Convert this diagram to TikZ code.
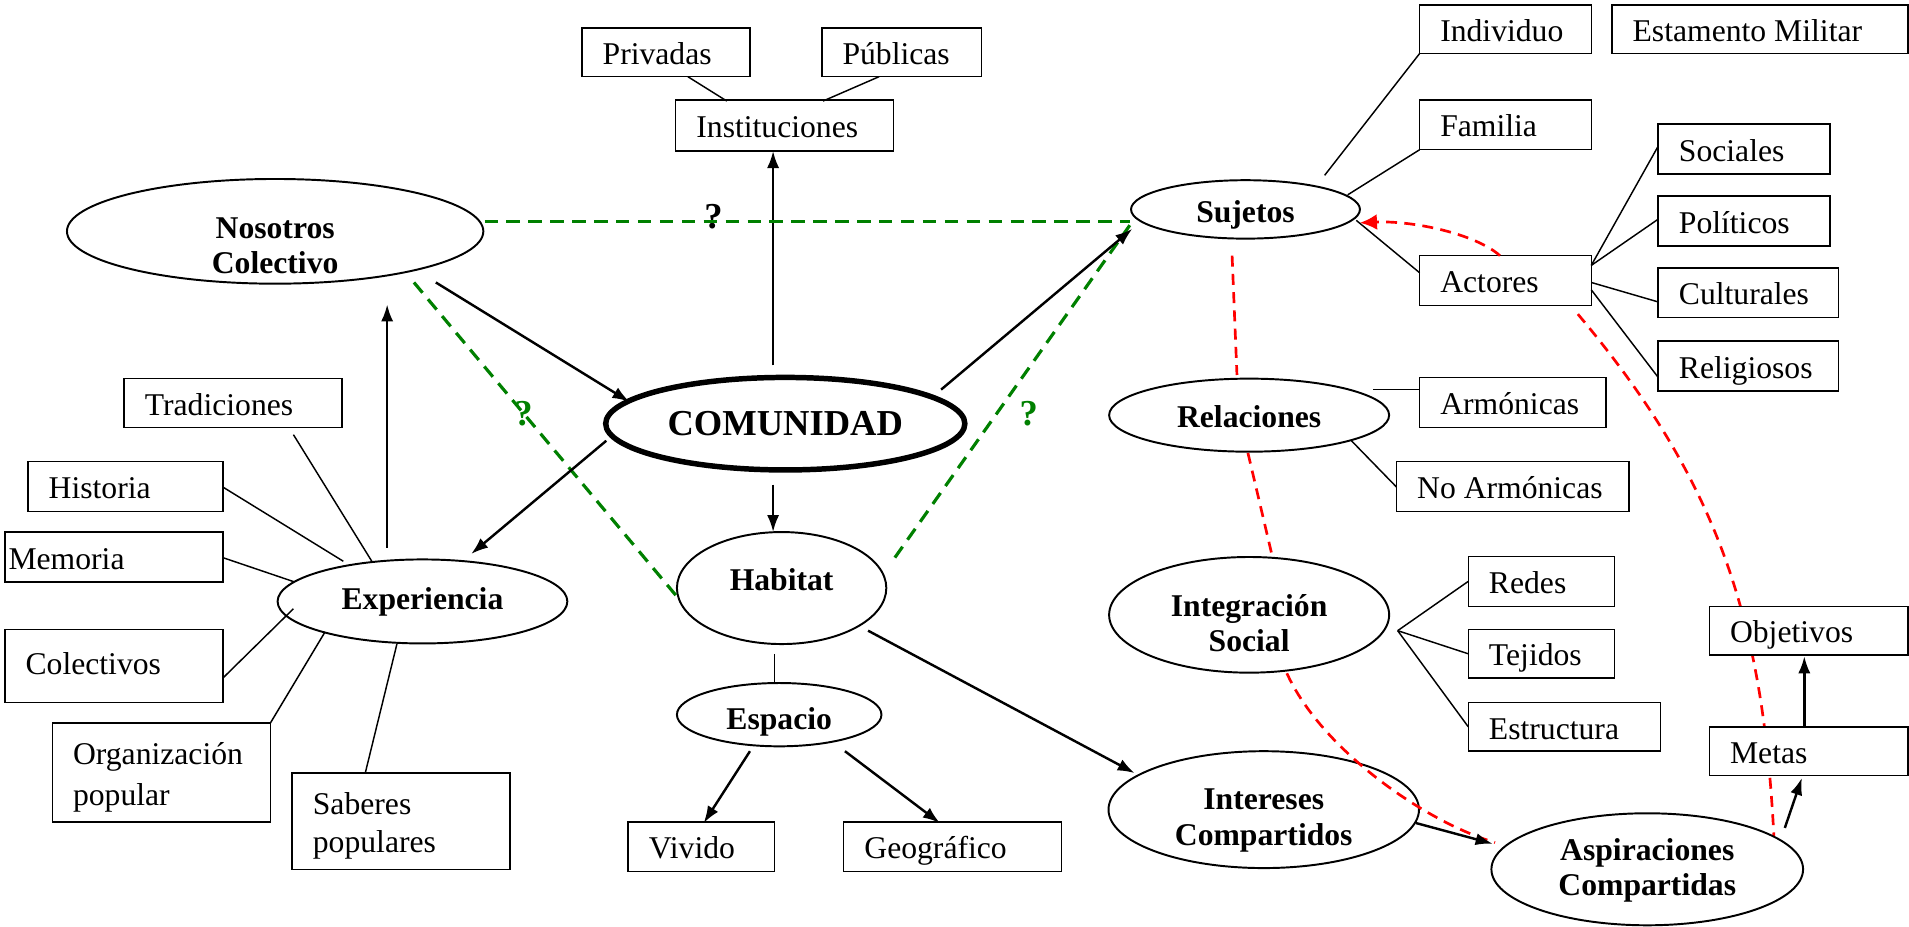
\documentclass[tikz,border=0pt]{standalone}
\usepackage{fontspec}
\setmainfont{Liberation Serif}
\usetikzlibrary{shapes.geometric,arrows.meta,calc}
\definecolor{gr}{RGB}{0,128,0}
\pgfdeclarelayer{bg}
\pgfsetlayers{bg,main}
\begin{document}
\begin{tikzpicture}[x=1pt,y=-1pt,
  box/.style={draw, line width=1.2pt, fill=white, inner xsep=17pt, inner ysep=0pt, align=flush left, font=\fontsize{26}{31}\selectfont},
  bx/.style n args={3}{box, minimum width=#1pt, text width=#2pt, minimum height=#3pt, text height=20pt, text depth=0pt},
  mbx/.style n args={3}{box, minimum width=#1pt, text width=#2pt, minimum height=#3pt},
  ell/.style={draw, ellipse, line width=1.6pt, inner sep=0pt, align=center, font=\fontsize{26}{29}\selectfont\bfseries},
  etxt/.style={inner sep=0pt, align=center, font=\fontsize{26}{29}\selectfont\bfseries},
  arr/.style={line width=2pt, -{Latex[length=14pt,width=10pt]}},
  lnk/.style={line width=1.2pt},
  gdash/.style={gr, line width=2.6pt, dash pattern=on 11pt off 7pt},
  rdash/.style={red, line width=2.2pt, dash pattern=on 9pt off 6pt},
  qm/.style={font=\fontsize{30}{30}\selectfont\bfseries, inner sep=0pt}
]
\useasboundingbox (0,0) rectangle (1568,761);

% ellipses
\node[ell, minimum width=342pt, minimum height=86pt] (nos) at (226,190) {};
\node[etxt] (nost) at ($(nos)+(0,12)$) {Nosotros\\Colectivo};
\node[ell, line width=4.5pt, minimum width=295pt, minimum height=76pt, font=\fontsize{30}{30}\selectfont\bfseries] (comu) at (645,348) {COMUNIDAD};
\node[ell, minimum width=172pt, minimum height=92pt, text height=14pt, text depth=10pt] (hab) at (642,483) {Habitat};
\node[ell, minimum width=168pt, minimum height=52pt, text height=24pt, text depth=0pt] (esp) at (640,587) {Espacio};
\node[ell, minimum width=238pt, minimum height=69pt] (exp) at (347,494) {Experiencia};
\node[ell, minimum width=188pt, minimum height=48pt, text height=22pt, text depth=0pt] (suj) at (1023,172) {Sujetos};
\node[ell, minimum width=230pt, minimum height=60pt, text height=20pt, text depth=0pt] (rel) at (1026,341) {Relaciones};
\node[ell, minimum width=230pt, minimum height=95pt] (integ) at (1026,505) {};
\node[etxt] (integt) at ($(integ)+(0,7)$) {Integración\\Social};
\node[ell, minimum width=255pt, minimum height=96pt] (inter) at (1038,665) {};
\node[etxt] (intert) at ($(inter)+(0,9)$) {Intereses\\Compartidos};
\node[ell, minimum width=256pt, minimum height=92pt] (asp) at (1353,714) {};
\node[etxt] (aspt) at ($(asp)+(0,1)$) {Aspiraciones\\Compartidas};

% boxes
\node[bx={138}{104}{40}] (priv) at (547,43) {Privadas};
\node[bx={131}{97}{40}] (pub) at (740.5,43) {Públicas};
\node[bx={179}{145}{42}] (inst) at (644.5,103) {Instituciones};
\node[bx={179}{145}{40}] (trad) at (191.5,331) {Tradiciones};
\node[bx={160}{126}{41}] (hist) at (103,399.5) {Historia};
\node[bx={179}{173}{41}, inner xsep=3pt] (mem) at (93.5,457.5) {Memoria};
\node[bx={179}{145}{60}, text height=18pt, text depth=4pt] (colec) at (93.5,547) {Colectivos};
\node[mbx={179}{145}{81}, font=\fontsize{26}{33}\selectfont] (org) at (132.5,634.5) {\rule{0pt}{26pt}Organización\\popular};
\node[mbx={179}{145}{79}, font=\fontsize{26}{31}\selectfont] (sab) at (329.5,674.5) {\rule{0pt}{26pt}Saberes\\populares};
\node[bx={120}{86}{41}] (viv) at (576,695.5) {Vivido};
\node[bx={179}{145}{41}] (geo) at (782.5,695.5) {Geográfico};
\node[bx={141}{107}{40}] (indiv) at (1236.5,24) {Individuo};
\node[bx={243}{209}{40}] (estm) at (1445.5,24) {Estamento Militar};
\node[bx={141}{107}{41}] (fam) at (1236.5,102.5) {Familia};
\node[bx={141}{107}{41}] (act) at (1236.5,230.5) {Actores};
\node[bx={141}{107}{41}] (soc) at (1432.5,122.5) {Sociales};
\node[bx={141}{107}{41}] (pol) at (1432.5,181.5) {Políticos};
\node[bx={148}{114}{41}] (cult) at (1436,240.5) {Culturales};
\node[bx={148}{114}{41}] (relig) at (1436,300.5) {Religiosos};
\node[bx={153}{119}{41}] (arm) at (1242.5,330.5) {Armónicas};
\node[bx={191}{157}{41}] (noarm) at (1242.5,399.5) {No Armónicas};
\node[bx={120}{86}{41}] (redes) at (1266,477.5) {Redes};
\node[bx={120}{86}{40}] (tej) at (1266,537) {Tejidos};
\node[bx={158}{124}{40}] (estr) at (1285,597) {Estructura};
\node[bx={163}{129}{40}] (obj) at (1485.5,518) {Objetivos};
\node[bx={163}{129}{40}] (metas) at (1485.5,617) {Metas};

% question marks
\node[qm] (q1) at (586,178) {?};
\node[qm, text=gr] (q2) at (430,340) {?};
\node[qm, text=gr] (q3) at (845,340) {?};

% institutions
\draw[lnk] ($(priv)+(18,20)$) -- ($(inst)+(-47.5,-20)$);
\draw[lnk] ($(pub)+(-18.5,20)$) -- ($(inst)+(31.5,-20)$);
\draw[arr] ($(comu)+(-10,-48)$) -- ($(inst)+(-9.5,21)$);

% green dashed
\draw[gdash] ($(nos)+(172,-8)$) -- ($(suj)+(-95,10)$);
\draw[gdash] ($(nos)+(114,42)$) -- ($(hab)+(-86,7)$);
\draw[gdash] ($(hab)+(93,-25)$) -- ($(suj)+(-95,13)$);

% black arrows
\draw[arr] ($(nos)+(132,42)$) -- ($(comu)+(-128,-18)$);
\draw[arr] ($(comu)+(-147,14)$) -- ($(exp)+(40,-39)$);
\draw[arr] ($(exp)+(-29,-44)$) -- ($(nos)+(92,60)$);
\draw[arr] ($(comu)+(128,-28)$) -- ($(suj)+(-93,16)$);
\draw[arr] ($(comu)+(-10,50)$) -- ($(hab)+(-7,-46)$);
\draw[lnk] ($(hab)+(-6,54)$) -- ($(esp)+(-4,-26)$);
\draw[arr] ($(esp)+(-24,30)$) -- ($(viv)+(2,-19.5)$);
\draw[arr] ($(esp)+(54,30)$) -- ($(geo)+(-10.5,-19.5)$);
\draw[arr] ($(hab)+(71,35)$) -- ($(inter)+(-106,-30)$);

% experiencia links
\draw[lnk] ($(trad)+(49.5,26)$) -- ($(exp)+(-41,-32)$);
\draw[lnk] ($(hist)+(80,0.5)$) -- ($(exp)+(-65,-33)$);
\draw[lnk] ($(mem)+(89.5,0.5)$) -- ($(exp)+(-105,-16)$);
\draw[lnk] ($(colec)+(89.5,10)$) -- ($(exp)+(-106,6)$);
\draw[lnk] ($(org)+(89.5,-40.5)$) -- ($(exp)+(-80,25)$);
\draw[lnk] ($(sab)+(-29.5,-39.5)$) -- ($(exp)+(-21,35)$);

% sujetos links
\draw[lnk] ($(suj)+(65,-28)$) -- ($(indiv)+(-70.5,20)$);
\draw[lnk] ($(suj)+(84,-12)$) -- ($(fam)+(-70.5,20.5)$);
\draw[lnk] ($(suj)+(91,9)$) -- ($(act)+(-70.5,-6.5)$);
\draw[lnk] ($(act)+(70.5,-12.5)$) -- ($(soc)+(-70.5,-2.5)$);
\draw[lnk] ($(act)+(70.5,-12.5)$) -- ($(pol)+(-70.5,-1.5)$);
\draw[lnk] ($(act)+(70.5,1.5)$) -- ($(cult)+(-74,7.5)$);
\draw[lnk] ($(act)+(70.5,7.5)$) -- ($(relig)+(-74,9.5)$);

% relaciones / integracion links
\draw[lnk] ($(rel)+(102,-21)$) -- ($(arm)+(-76.5,-10.5)$);
\draw[lnk] ($(rel)+(84,21)$) -- ($(noarm)+(-95.5,0.5)$);
\draw[lnk] ($(integ)+(122,13)$) -- ($(redes)+(-60,0)$);
\draw[lnk] ($(integ)+(122,13)$) -- ($(tej)+(-60,0)$);
\draw[lnk] ($(integ)+(122,13)$) -- ($(estr)+(-79,0)$);

% red dashed
\draw[rdash, -{Latex[length=14pt,width=13pt]}] ($(act)+(-4.5,-20.5)$) .. controls ($(act)+(-24.5,-38.5)$) and ($(suj)+(137,9)$) .. ($(suj)+(94,11)$);
\begin{pgfonlayer}{bg}
\draw[rdash] ($(act)+(59.5,27.5)$) .. controls ($(act)+(174.5,164.5)$) and ($(asp)+(95,-206)$) .. ($(asp)+(104,-27)$);
\end{pgfonlayer}
\draw[rdash] ($(suj)+(-11,38)$) -- ($(rel)+(-10,-33)$);
\draw[rdash] ($(rel)+(-1,31)$) -- ($(integ)+(19,-48)$);
\draw[rdash] ($(integ)+(31,48)$) .. controls ($(integ)+(59,110)$) and ($(asp)+(-183,-39)$) .. ($(asp)+(-125,-22)$);

% aspiraciones arrows
\draw[arr] ($(inter)+(125,11)$) -- ($(asp)+(-127,-21)$);
\draw[arr] ($(asp)+(113,-34)$) -- ($(metas)+(-5.5,22)$);
\draw[arr] ($(metas)+(-3.5,-20)$) -- ($(obj)+(-3.5,21)$);
\end{tikzpicture}
\end{document}
